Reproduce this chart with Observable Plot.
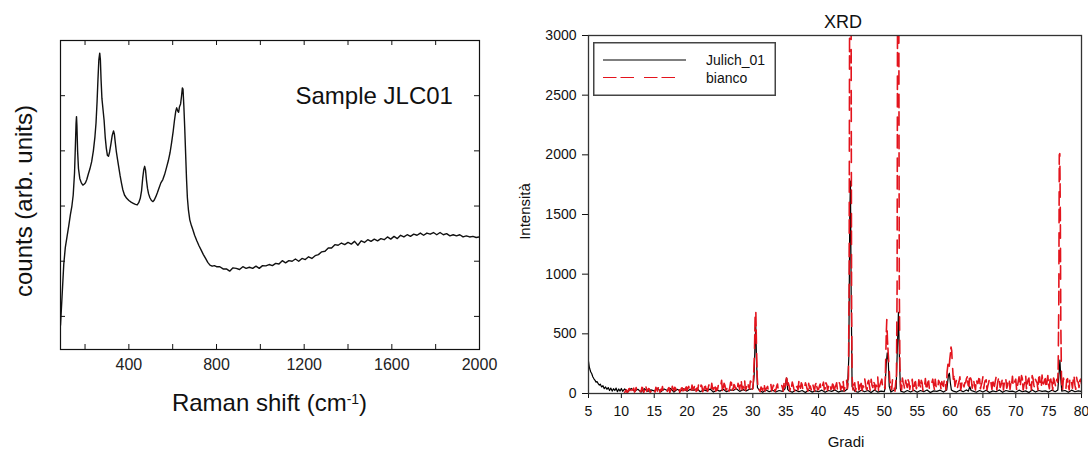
<!DOCTYPE html>
<html>
<head>
<meta charset="utf-8">
<script src="https://cdn.jsdelivr.net/npm/d3@7"></script>
<script src="https://cdn.jsdelivr.net/npm/@observablehq/plot@0.6"></script>
<style>
  html, body { margin: 0; padding: 0; background: #fff; }
  #wrap { position: relative; width: 1088px; height: 450px; overflow: hidden;
          font-family: "Liberation Sans", Arial, Helvetica, sans-serif; }
  #raman { position: absolute; left: 0; top: 0; }
  #xrd { position: absolute; left: 500px; top: 0; }
  #ramanXLabel { position: absolute; left: 60px; width: 419px; top: 391px; text-align: center;
                 font-size: 24px; line-height: 24px; color: #111; }
  #ramanXLabel sup { font-size: 14px; position: relative; top: -4px; vertical-align: top; }
  #legend { position: absolute; left: 593px; top: 42px; }
</style>
</head>
<body>
<div id="wrap">
  <div id="raman"></div>
  <div id="ramanXLabel">Raman shift (cm<sup>-1</sup>)</div>
  <div id="xrd"></div>
  <div id="legend"></div>
</div>
<script>
const FONT = '"Liberation Sans", Arial, Helvetica, sans-serif';

// ---------------- Raman panel data ----------------
const ramanShift = [88,95,103,110,118,126,133,140,146,152,156,159,161,163,166,170,176,183,190,197,202,208,215,222,230,238,245,250,255,259,263,267,270,273,277,282,287,292,297,302,307,312,318,324,330,334,338,343,348,354,360,366,372,380,390,400,410,420,430,438,445,452,458,463,468,472,476,480,485,490,496,503,510,516,523,530,538,546,555,563,572,580,588,595,602,608,614,618,623,627,631,636,640,644,647,651,655,659,663,667,672,678,685,692,700,710,720,730,740,750,760,770,780,790,800,
815,830,845,860,875,890,905,920,935,950,965,980,995,1010,1025,1040,1055,1070,1085,1100,1115,1130,1145,1160,1175,1190,1205,1220,1235,1250,1265,1280,1295,1310,1325,1340,1355,1370,1385,1400,1415,1430,1445,1460,1475,1490,1505,1520,1535,1550,1565,1580,1595,1610,1625,1640,1655,1670,1685,1700,1715,1730,1745,1760,1775,1790,1805,1820,1835,1850,1865,1880,1895,1910,1925,1940,1955,1970,1985,2000];
const ramanCounts = [0.84,1.35,1.95,2.25,2.45,2.65,2.84,3.0,3.2,3.6,4.1,4.5,4.62,4.45,4.0,3.68,3.5,3.42,3.38,3.4,3.42,3.48,3.58,3.67,3.8,4.0,4.25,4.5,4.9,5.3,5.65,5.77,5.65,5.3,4.95,4.75,4.55,4.25,4.05,3.92,3.9,3.98,4.12,4.28,4.36,4.3,4.15,3.98,3.85,3.7,3.55,3.42,3.3,3.2,3.14,3.1,3.07,3.05,3.03,3.02,3.06,3.14,3.28,3.5,3.66,3.72,3.65,3.48,3.32,3.22,3.15,3.1,3.08,3.11,3.17,3.24,3.33,3.42,3.48,3.57,3.7,3.82,3.97,4.15,4.35,4.55,4.72,4.78,4.72,4.7,4.8,4.85,4.98,5.14,5.12,4.8,4.4,3.95,3.5,3.15,2.92,2.75,2.65,2.57,2.47,2.37,2.28,2.2,2.12,2.05,1.98,1.93,1.91,1.92,1.9,
1.90,1.86,1.86,1.82,1.88,1.87,1.85,1.90,1.87,1.89,1.87,1.91,1.87,1.92,1.915,1.94,1.92,1.96,1.95,2.01,1.97,2.01,2.0,2.04,2.0,2.05,2.03,2.08,2.05,2.10,2.12,2.17,2.18,2.24,2.24,2.30,2.29,2.33,2.30,2.34,2.31,2.36,2.29,2.37,2.34,2.39,2.36,2.40,2.37,2.41,2.39,2.44,2.40,2.45,2.41,2.47,2.44,2.48,2.45,2.49,2.47,2.51,2.47,2.51,2.49,2.52,2.48,2.52,2.48,2.50,2.46,2.48,2.46,2.48,2.44,2.46,2.44,2.45,2.43,2.44];
const ramanTicks = [200,400,600,800,1000,1200,1400,1600,1800,2000];
const ramanTickLabels = [400,800,1200,1600,2000];
const ramanYTicks = [1,2,3,4,5];
const ramanSampleLabel = "Sample JLC01";
const ramanYLabel = "counts (arb. units)";

const ramanData = ramanShift.map((s, i) => ({shift: s, counts: ramanCounts[i]}));

// ---------------- XRD panel data ----------------
const seriesNames = ["Julich_01", "bianco"];
const xrdXTicks = [5,10,15,20,25,30,35,40,45,50,55,60,65,70,75,80];
const xrdYTicks = [0,500,1000,1500,2000,2500,3000];

// bianco: baseline sampled every 0.25 deg from 10.5 deg, plus the in-between samples from 10.625 deg
const biancoStep = 0.25;
const biancoStartA = 10.5;
const biancoBaselineA = [
  8,30,15,42,20,35,12,50,25,40,18,45,22,55,28,38,15,48,
  30,52,20,45,35,58,25,40,18,50,32,60,22,44,30,55,20,48,35,42,
  25,60,38,70,30,55,45,80,35,62,28,75,40,58,50,85,32,65,45,70,
  38,110,45,68,30,75,52,90,40,65,55,85,35,100,60,112,45,80,38,95,
  45,60,60,60,30,55,25,70,40,60,28,75,45,55,30,80,40,65,50,85,
  60,40,70,55,95,38,80,60,100,45,75,58,90,40,85,62,95,48,70,55,
  35,80,55,95,42,75,60,88,40,70,52,90,45,78,60,100,50,120,95,60,
  60,30,90,55,110,45,80,65,130,40,95,60,120,50,85,70,140,55,100,45,
  60,60,60,60,60,120,45,100,60,60,55,130,70,110,50,95,80,120,45,100,
  65,115,55,90,75,125,50,105,60,95,70,120,48,110,85,100,60,130,90,60,
  60,60,60,60,115,80,140,65,105,90,125,70,170,110,95,60,130,85,120,70,
  140,90,115,65,125,80,110,60,135,95,120,70,140,85,115,65,130,90,145,75,
  120,60,140,95,125,70,160,85,130,100,150,70,120,90,135,65,155,80,125,95,
  70,160,90,130,75,120,60,60,60,130,85,115,65,140,90,120,70,135,95,110,
  80];
const biancoStartB = 10.625;
const biancoBaselineB = [
  22,5,38,12,28,45,20,10,35,15,52,8,33,18,42,10,30,20,
  12,38,48,10,25,15,50,30,42,8,20,36,52,15,40,10,45,22,12,55,
  48,15,20,45,62,18,25,40,70,15,50,35,18,80,25,42,60,20,30,55,
  70,20,85,30,58,20,95,28,75,35,20,60,88,30,42,25,70,55,105,25,
  60,60,60,50,15,40,62,20,48,15,55,22,70,18,60,25,45,72,20,55,
  60,90,20,50,70,22,55,30,65,90,25,48,70,20,45,30,75,22,88,30,
  60,20,70,30,90,25,50,35,80,18,65,28,95,30,50,22,70,40,60,60,
  60,70,20,60,30,95,25,55,85,30,110,20,70,95,30,60,25,80,120,30,
  40,60,60,100,30,85,20,60,60,60,30,90,25,70,115,35,60,25,90,40,
  30,80,110,25,60,40,95,30,75,120,35,60,25,95,40,70,115,30,60,60,
  60,60,150,90,45,100,30,120,55,90,140,60,130,45,100,30,85,125,40,95,
  40,110,30,90,140,35,75,100,30,125,50,95,30,110,45,135,35,80,50,105,
  35,100,45,150,30,95,40,115,55,30,125,45,100,30,140,40,90,115,35,150,
  40,100,30,110,45,95,60,60,35,100,40,125,30,95,45,140,35,100,50,120];
const biancoPeaks = [
  [[30.1,120],[30.25,350],[30.35,650],[30.45,700],[30.55,420],[30.65,150],[30.8,30]],
  [[35.0,70],[35.1,130],[35.2,120]],
  [[44.55,150],[44.65,900],[44.72,3200],[44.78,4000],[44.88,4000],[44.95,3200],[45.02,800],[45.1,150],[45.2,40]],
  [[50.15,120],[50.3,500],[50.38,620],[50.48,450],[50.58,350],[50.7,240],[50.85,90]],
  [[51.85,150],[51.95,900],[52.02,3500],[52.1,4000],[52.2,3500],[52.28,900],[52.38,200]],
  [[59.55,180],[59.7,250],[59.85,200],[59.95,280],[60.05,330],[60.15,390],[60.25,360],[60.35,250],[60.5,120]],
  [[76.45,200],[76.55,800],[76.62,2000],[76.7,2010],[76.78,1500],[76.85,600],[76.95,150]]
];

// Julich_01: initial decay, baseline every 0.5 deg from 10.5 deg, peaks
const julichDecay = [[5.0,270],[5.1,230],[5.2,205],[5.35,180],[5.5,165],[5.65,140],[5.8,125],[6.0,110],[6.15,95],[6.3,100],[6.5,80],[6.65,70],[6.8,78],[7.0,55],[7.2,65],[7.4,40],[7.6,55],[7.8,35],[8.0,50],[8.2,25],[8.4,45],[8.6,20],[8.8,40],[9.0,25],[9.2,45],[9.4,15],[9.6,38],[9.8,20],[10.0,42],[10.2,18]];
const julichStep = 0.5;
const julichStart = 10.5;
const julichBaseline = [
  38,15,42,20,35,12,40,18,30,
  22,45,15,38,25,42,12,35,20,40,
  18,35,25,42,15,30,22,38,12,28,
  20,35,15,30,25,40,18,32,22,35,
  20,20,25,10,30,15,28,12,25,18,
  20,22,10,28,15,25,8,30,12,22,
  15,28,10,25,18,30,12,22,20,20,
  20,20,10,28,15,25,8,30,12,20,
  15,20,12,30,20,20,10,25,12,28,
  10,25,15,30,8,22,18,28,12,20,
  20,20,12,28,15,30,20,20,10,25,
  12,28,8,22,15,30,10,25,18,20,
  10,28,15,22,8,30,12,25,18,22,
  12,28,15,20,20,25,10,28,15,22,
  18];
const julichPeaks = [
  [[30.0,40],[30.2,150],[30.35,450],[30.45,560],[30.55,300],[30.7,50]],
  [[34.9,40],[35.05,110],[35.15,130],[35.3,35]],
  [[44.4,40],[44.6,300],[44.75,1500],[44.85,1780],[44.95,900],[45.1,60]],
  [[50.1,40],[50.3,250],[50.45,340],[50.6,280],[50.75,60]],
  [[51.8,40],[52.0,400],[52.15,680],[52.3,300],[52.45,40]],
  [[59.5,30],[59.75,150],[59.9,170],[60.05,90],[60.2,30]],
  [[62.8,20],[63.0,60],[63.2,25]],
  [[76.4,30],[76.6,180],[76.72,280],[76.85,120],[77.0,20]]
];

// merge sampled baselines with the peak samples (baseline samples inside a peak are dropped)
function buildSeries(baselines, step, extra, peaks) {
  const windows = peaks.map(g => [g[0][0], g[g.length - 1][0]]);
  const pts = [];
  baselines.forEach(([start, values]) => {
    values.forEach((v, i) => {
      const deg = +(start + i * step).toFixed(3);
      if (!windows.some(([a, b]) => deg >= a && deg <= b)) pts.push({deg, val: v});
    });
  });
  extra.forEach(([deg, val]) => pts.push({deg, val}));
  peaks.forEach(g => g.forEach(([deg, val]) => pts.push({deg, val})));
  pts.sort((a, b) => a.deg - b.deg);
  return pts;
}
const julich = buildSeries([[julichStart, julichBaseline]], julichStep, julichDecay, julichPeaks);
const bianco = buildSeries([[biancoStartA, biancoBaselineA], [biancoStartB, biancoBaselineB]], biancoStep, [], biancoPeaks);

// ---------------- Raman plot ----------------
const rW = 500, rH = 450, rML = 60, rMR = 21, rMT = 40, rMB = 101;
const rInnerW = rW - rML - rMR, rInnerH = rH - rMT - rMB;
const TICK_IN = 5;

const ramanPlot = Plot.plot({
  width: rW, height: rH,
  marginLeft: rML, marginRight: rMR, marginTop: rMT, marginBottom: rMB,
  style: {fontFamily: FONT, background: "transparent", color: "#111"},
  x: {domain: [88, 2000], label: null},
  y: {domain: [0.4, 6.0], axis: null},
  marks: [
    Plot.tickX(ramanTicks, {x: d => d, insetTop: rInnerH - TICK_IN, stroke: "#111", strokeWidth: 1}),
    Plot.tickX(ramanTicks, {x: d => d, insetBottom: rInnerH - TICK_IN, stroke: "#111", strokeWidth: 1}),
    Plot.tickY(ramanYTicks, {y: d => d, insetRight: rInnerW - TICK_IN, stroke: "#111", strokeWidth: 1}),
    Plot.tickY(ramanYTicks, {y: d => d, insetLeft: rInnerW - TICK_IN, stroke: "#111", strokeWidth: 1}),
    Plot.axisX({ticks: ramanTickLabels, tickSize: 0, tickPadding: 9, fontSize: 16, fill: "#222",
                tickFormat: d => String(d), label: null}),
    Plot.line(ramanData, {x: "shift", y: "counts", stroke: "#111", strokeWidth: 1.4, clip: true}),
    Plot.frame({stroke: "#111", strokeWidth: 1.2}),
    Plot.text([ramanSampleLabel], {frameAnchor: "top-left", textAnchor: "start", lineAnchor: "bottom",
               dx: 235, dy: 63, fontSize: 24, fill: "#111"}),
    Plot.text([ramanYLabel], {frameAnchor: "left", rotate: -90, textAnchor: "middle", lineAnchor: "middle",
               dx: -36, dy: 6, fontSize: 24, fill: "#111"})
  ]
});
document.getElementById("raman").appendChild(ramanPlot);

// ---------------- XRD plot ----------------
const xW = 588, xH = 450, xML = 88, xMR = 7, xMT = 35, xMB = 57;
const xrdPlot = Plot.plot({
  width: xW, height: xH,
  marginLeft: xML, marginRight: xMR, marginTop: xMT, marginBottom: xMB,
  style: {fontFamily: FONT, background: "transparent", color: "#111"},
  x: {domain: [5, 80], label: null},
  y: {domain: [0, 3000], label: null},
  marks: [
    Plot.axisX({ticks: xrdXTicks, tickSize: 5, tickPadding: 8, fontSize: 14, fill: "#111",
                tickFormat: d => String(d), label: null}),
    Plot.axisY({ticks: xrdYTicks, tickSize: 6, tickPadding: 6, fontSize: 14, fill: "#111",
                tickFormat: d => String(d), label: null}),
    Plot.line(julich, {x: "deg", y: "val", stroke: "#000", strokeWidth: 1.2, clip: true}),
    Plot.line(bianco, {x: "deg", y: "val", stroke: "#e3141d", strokeWidth: 1.6,
                       strokeDasharray: "13.5,4,13.5,10", clip: true}),
    Plot.frame({stroke: "#333", strokeWidth: 1.3}),
    Plot.text(["XRD"], {frameAnchor: "top", lineAnchor: "bottom", dx: 8, dy: -8, fontSize: 18, fill: "#111"}),
    Plot.text(["Gradi"], {frameAnchor: "bottom", lineAnchor: "bottom", dx: 11, dy: 53, fontSize: 15, fill: "#111"}),
    Plot.text(["Intensità"], {frameAnchor: "left", rotate: -90, textAnchor: "middle", lineAnchor: "middle",
               dx: -63, dy: -3, fontSize: 15, fill: "#111"})
  ]
});
document.getElementById("xrd").appendChild(xrdPlot);

// ---------------- Legend ----------------
const legW = 183, legH = 54;
const leg = d3.select("#legend").append("svg")
  .attr("width", legW).attr("height", legH)
  .style("font-family", FONT);
leg.append("rect").attr("x", 0.75).attr("y", 0.75).attr("width", legW - 1.5).attr("height", legH - 1.5)
  .attr("fill", "white").attr("stroke", "#444").attr("stroke-width", 1.5);
const legendStyles = [
  {stroke: "#000", dash: null, len: 83, y: 18},
  {stroke: "#e3141d", dash: "13.5,4,13.5,10", len: 73, y: 35.5}
];
seriesNames.forEach((name, i) => {
  const s = legendStyles[i];
  leg.append("line").attr("x1", 10).attr("x2", 10 + s.len).attr("y1", s.y).attr("y2", s.y)
    .attr("stroke", s.stroke).attr("stroke-width", 1.1).attr("stroke-dasharray", s.dash);
  leg.append("text").attr("x", 113).attr("y", s.y + 5).attr("font-size", 14).attr("fill", "#111").text(name);
});
</script>
</body>
</html>
